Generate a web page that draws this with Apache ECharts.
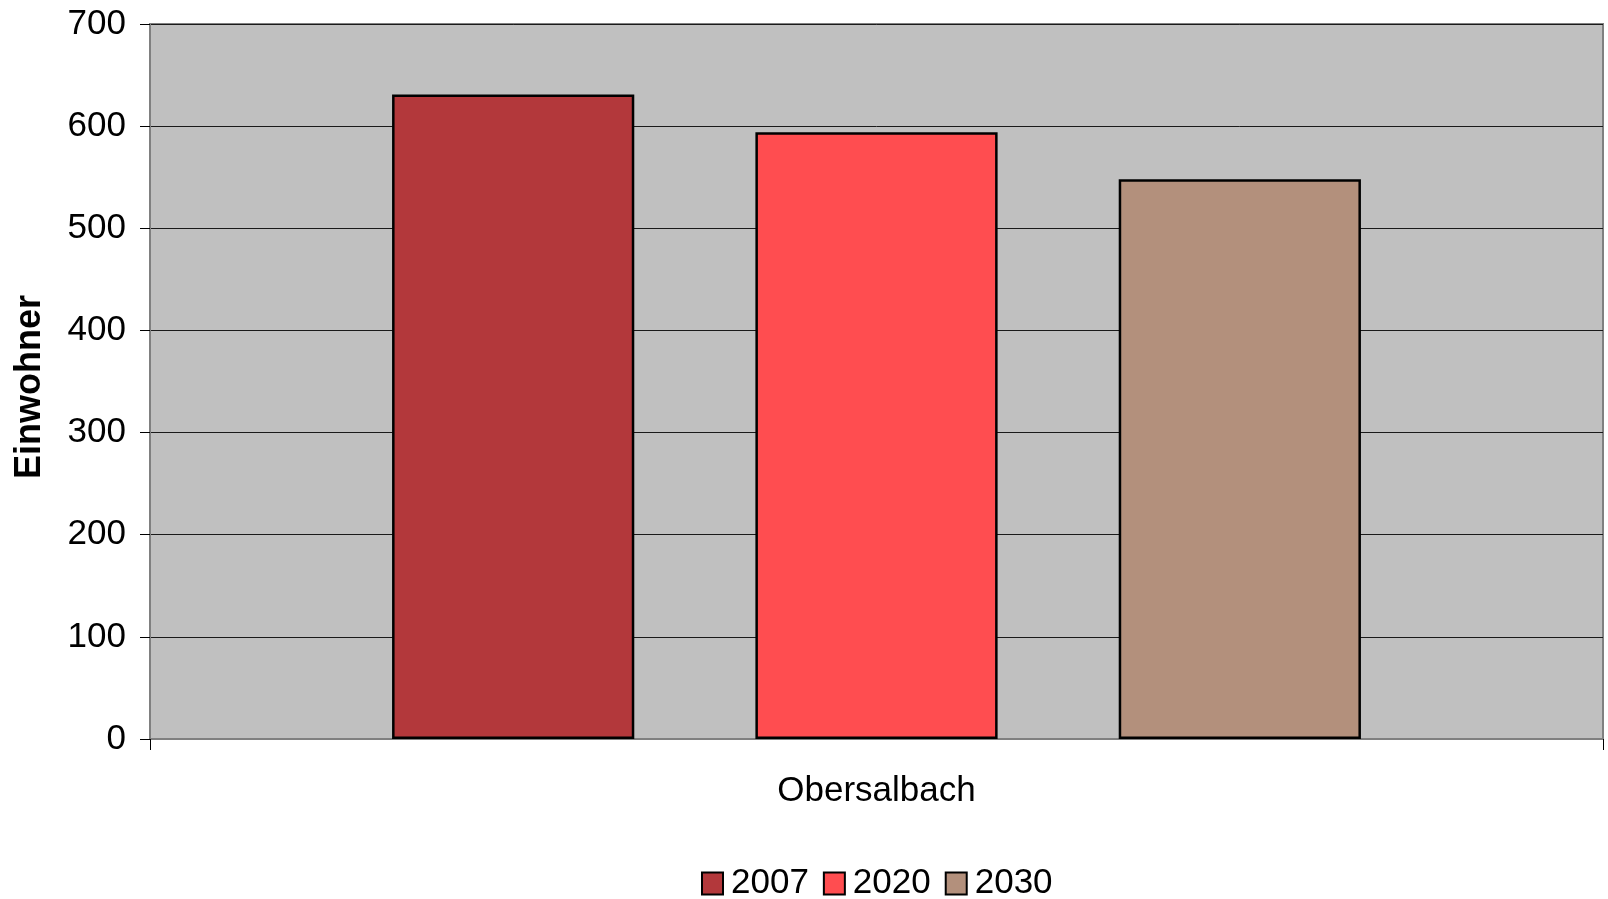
<!DOCTYPE html>
<html>
<head>
<meta charset="utf-8">
<script src="https://cdn.jsdelivr.net/npm/echarts@6/dist/echarts.min.js"></script>
<style>
  html, body { margin: 0; padding: 0; background: #ffffff; }
  #chart { width: 1608px; height: 899px; }
</style>
</head>
<body>
<div id="chart"></div>
<script>
// Einwohnerentwicklung Obersalbach
const categories = ['Obersalbach'];
const years = ['2007', '2020', '2030'];
const values2007 = [631];
const values2020 = [594];
const values2030 = [548];
const yTicks = { min: 0, max: 700, interval: 100 };
const seriesColors = ['#B3383B', '#FF4D50', '#B3907C'];

const font = 'Arial, "Liberation Sans", sans-serif';
const seriesData = [values2007, values2020, values2030];

const chart = echarts.init(document.getElementById('chart'), null, { renderer: 'canvas' });

chart.setOption({
  animation: false,
  backgroundColor: '#ffffff',
  grid: {
    left: 150, right: 5, top: 24, bottom: 160,
    show: true,
    backgroundColor: '#C0C0C0',
    borderColor: '#808080',
    borderWidth: 2
  },
  legend: {
    data: years,
    top: 861,
    left: 696,
    itemWidth: 21,
    itemHeight: 22,
    itemGap: 14,
    icon: 'rect',
    textStyle: { fontFamily: font, fontSize: 35, color: '#000', padding: [0, 0, 0, 3] }
  },
  xAxis: {
    type: 'category',
    data: categories,
    axisLine: { show: true, lineStyle: { color: '#808080', width: 2 } },
    axisTick: { show: true, length: 11, lineStyle: { color: '#000', width: 1 } },
    axisLabel: { fontFamily: font, fontSize: 35, color: '#000', margin: 35 }
  },
  yAxis: {
    type: 'value',
    min: yTicks.min,
    max: yTicks.max,
    interval: yTicks.interval,
    name: 'Einwohner',
    nameLocation: 'middle',
    nameRotate: 90,
    nameGap: 102,
    nameTextStyle: { fontFamily: font, fontSize: 36, fontWeight: 'bold', color: '#000', padding: [0, 11, 0, 0] },
    axisLine: { show: true, lineStyle: { color: '#808080', width: 2 } },
    axisTick: { show: true, length: 10, lineStyle: { color: '#000', width: 1 } },
    axisLabel: { fontFamily: font, fontSize: 35, color: '#000', margin: 24 },
    splitLine: { show: true, lineStyle: { color: '#1a1a1a', width: 1 } }
  },
  series: years.map((y, i) => ({
    name: y,
    type: 'bar',
    data: seriesData[i],
    barWidth: '16.67%',
    barGap: '50%',
    itemStyle: { color: seriesColors[i], borderColor: '#000', borderWidth: 2.5 }
  }))
});
</script>
</body>
</html>
